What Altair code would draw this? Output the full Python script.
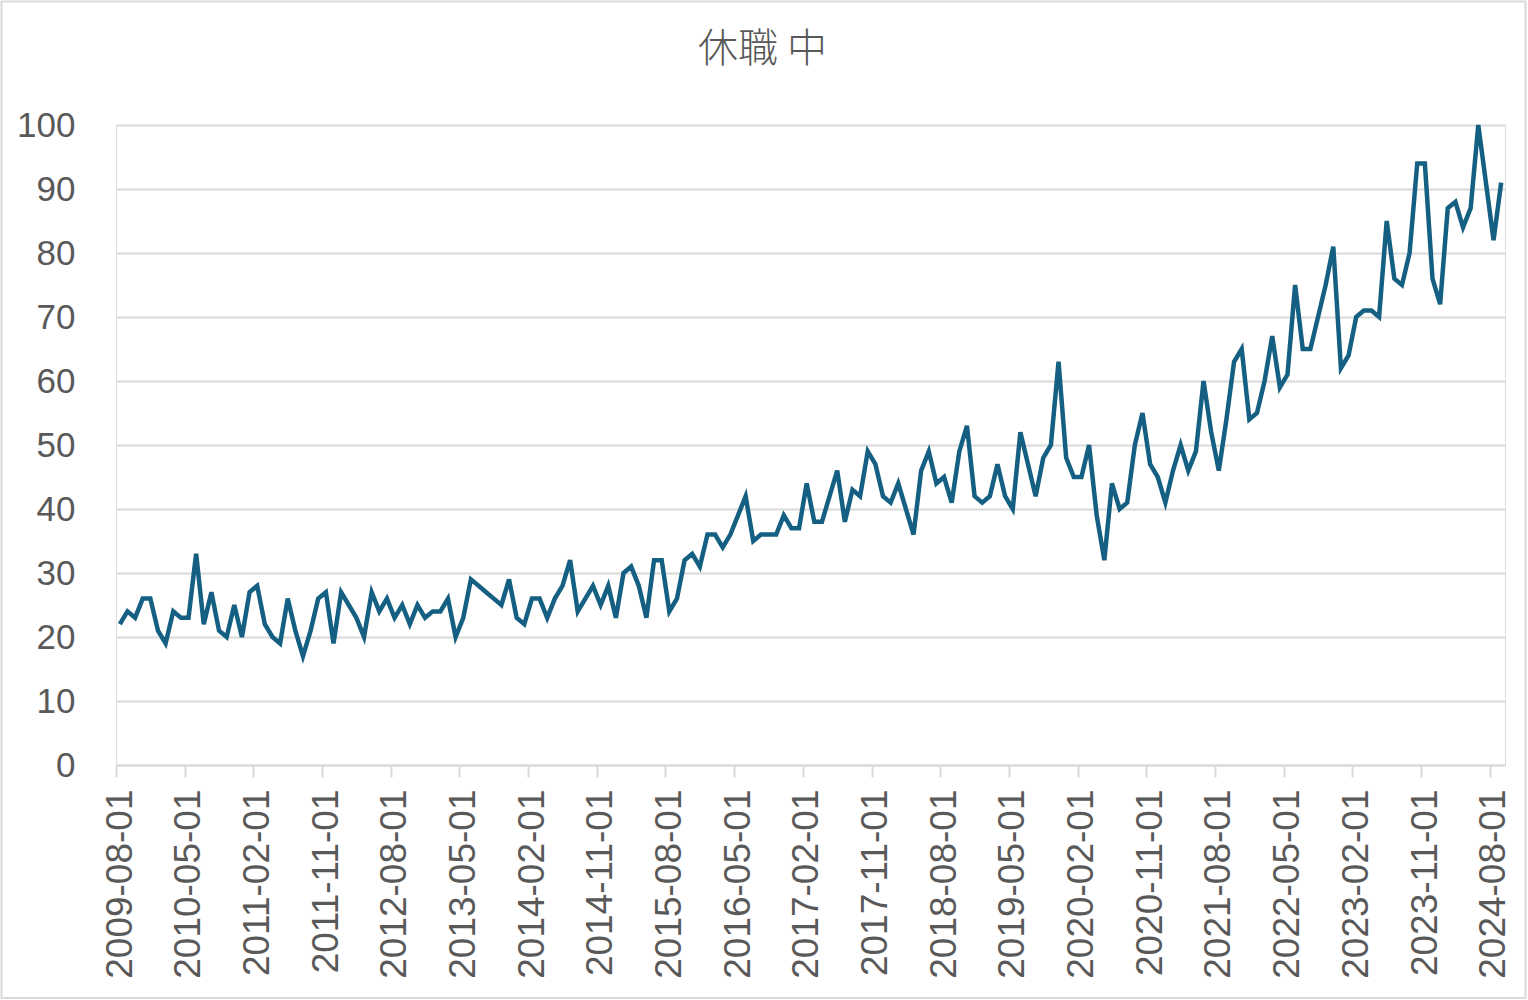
import altair as alt
import pandas as pd

# Monthly series 2009-08 .. 2024-09 (182 months)
values = [
    22, 24, 23, 26, 26, 21, 19, 24, 23, 23, 33, 22, 27, 21, 20, 25, 20, 27, 28, 22, 20, 19, 26,
    21, 17, 21, 26, 27, 19, 27, 25, 23, 20, 27, 24, 26, 23, 25, 22, 25, 23, 24, 24, 26, 20, 23,
    29, 28, 27, 26, 25, 29, 23, 22, 26, 26, 23, 26, 28, 32, 24, 26, 28, 25, 28, 23, 30, 31,
    28, 23, 32, 32, 24, 26, 32, 33, 31, 36, 36, 34, 36, 39, 42, 35, 36, 36, 36, 39, 37, 37, 44, 38,
    38, 42, 46, 38, 43, 42, 49, 47, 42, 41, 44, 40, 36, 46, 49, 44, 45, 41, 49, 53, 42, 41, 42,
    47, 42, 40, 52, 47, 42, 48, 50, 63, 48, 45, 45, 50, 39, 32, 44, 40, 41, 50, 55, 47, 45, 41,
    46, 50, 46, 49, 60, 52, 46, 54, 63, 65, 54, 55, 60, 67, 59, 61, 75, 65, 65, 70, 75, 81, 62,
    64, 70, 71, 71, 70, 85, 76, 75, 80, 94, 94, 76, 72, 87, 88, 84, 87, 100, 91, 82, 91,
]
months = [d.strftime("%Y-%m-%d") for d in pd.date_range("2009-08-01", periods=len(values), freq="MS")]

tick_labels = [
    "2009-08-01", "2010-05-01", "2011-02-01", "2011-11-01", "2012-08-01", "2013-05-01",
    "2014-02-01", "2014-11-01", "2015-08-01", "2016-05-01", "2017-02-01", "2017-11-01",
    "2018-08-01", "2019-05-01", "2020-02-01", "2020-11-01", "2021-08-01", "2022-05-01",
    "2023-02-01", "2023-11-01", "2024-08-01",
]
tick_step = 9
y_ticks = [0, 10, 20, 30, 40, 50, 60, 70, 80, 90, 100]

n = len(values)
df = pd.DataFrame({"month": months, "value": values, "pos": [i + 0.5 for i in range(n)]})

label_expr = "[" + ",".join("'" + t + "'" for t in tick_labels) + "][round(datum.value/%d)]" % tick_step

GRAY = "#595959"
GRID = "#d9d9d9"

x_enc = alt.X(
    "pos:Q",
    scale=alt.Scale(domain=[0, n], nice=False, zero=False),
    axis=alt.Axis(
        title=None,
        values=[i * tick_step for i in range(len(tick_labels))],
        labelExpr=label_expr,
        labelAngle=-90,
        labelFont="Liberation Sans",
        labelFontSize=37,
        labelColor=GRAY,
        labelPadding=12,
        labelOffset=4,
        labelOverlap=False,
        labelBound=False,
        labelFlush=False,
        labelLimit=0,
        tickColor=GRID,
        tickWidth=2,
        tickSize=12,
        domainColor=GRID,
        domainWidth=2,
        grid=False,
    ),
)

y_enc = alt.Y(
    "value:Q",
    scale=alt.Scale(domain=[0, 100], nice=False),
    axis=alt.Axis(
        title=None,
        values=y_ticks,
        labelFont="Liberation Sans",
        labelFontSize=35,
        labelColor=GRAY,
        labelPadding=41,
        labelLimit=0,
        ticks=False,
        tickSize=0,
        domain=False,
        grid=True,
        gridColor=GRID,
        gridWidth=2,
    ),
)

line = alt.Chart(df).mark_line(color="#156082", strokeWidth=4.5, strokeJoin="miter").encode(
    x=x_enc, y=y_enc
)

border = alt.Chart(pd.DataFrame({"a": [0]})).mark_rect(
    fill=None, stroke=GRID, strokeWidth=2
).encode(
    x=alt.value(-114.5), x2=alt.value(1409.5), y=alt.value(-123.5), y2=alt.value(873)
)

chart = alt.layer(line, border).properties(
    width=1389,
    height=640,
    title=alt.TitleParams(
        "休職 中",
        font="Noto Sans CJK JP",
        fontSize=40,
        fontWeight=300,
        color=GRAY,
        anchor="middle",
        frame="group",
        baseline="middle",
        dx=-48,
        offset=-89,
    ),
    padding={"left": 116, "top": 125, "right": 23, "bottom": 235},
    autosize=alt.AutoSizeParams(type="none"),
).configure_view(stroke=None).configure(background="white")

chart.save("out.html", embed_options={"renderer": "svg", "actions": False})
